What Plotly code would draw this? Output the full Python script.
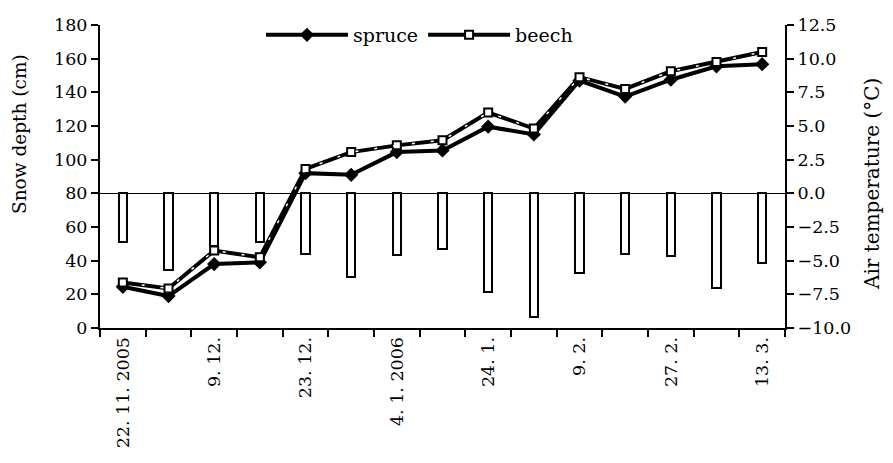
import plotly.graph_objects as go

# Data
cat_index = list(range(15))
tick_positions = [0, 2, 4, 6, 8, 10, 12, 14]
tick_labels = ["22. 11. 2005", "9. 12.", "23. 12.", "4. 1. 2006", "24. 1.", "9. 2.", "27. 2.", "13. 3."]
spruce = [24.5, 19, 38, 39, 92, 91, 104.5, 105.5, 119.6, 115, 147, 137.5, 147.5, 155.5, 156.7]
beech = [27, 23.5, 46, 42, 94.5, 104.5, 108.5, 111.5, 128, 118.5, 149, 142, 152.5, 158, 164]
air_temp = [-3.6, -5.7, -3.9, -3.6, -4.5, -6.2, -4.6, -4.1, -7.3, -9.2, -5.9, -4.5, -4.65, -7.0, -5.15]
left_title = "Snow depth (cm)"
right_title = "Air temperature (°C)"

FONT = "DejaVu Serif"
fig = go.Figure()

fig.add_trace(go.Bar(
    x=cat_index, y=air_temp, width=0.18,
    marker=dict(color="white", line=dict(color="black", width=2)),
    yaxis="y", showlegend=False, hoverinfo="y",
))

fig.add_trace(go.Scatter(
    x=cat_index, y=spruce, name="spruce", mode="lines+markers",
    line=dict(color="black", width=4),
    marker=dict(symbol="diamond", size=11, color="black"),
    yaxis="y2",
))
fig.add_trace(go.Scatter(
    x=cat_index, y=beech, name="beech", mode="lines+markers",
    line=dict(color="black", width=4),
    marker=dict(symbol="square", size=8, color="white", line=dict(color="black", width=2)),
    yaxis="y2",
))
fig.add_trace(go.Scatter(
    x=cat_index, y=beech, mode="lines",
    line=dict(color="white", width=1.5, dash="3px,16px"),
    yaxis="y2", showlegend=False, hoverinfo="skip",
))

# plot area in page pixels: x 100..785, y 25..328
def px_x(p):
    return (p - 100) / 685.0

def px_y(p):
    return (328 - p) / 303.0

fig.add_annotation(text=left_title, textangle=-90, xref="paper", yref="paper",
                   x=px_x(19), y=px_y(134), showarrow=False,
                   xanchor="center", yanchor="middle", font=dict(size=18.5))
fig.add_annotation(text=right_title, textangle=-90, xref="paper", yref="paper",
                   x=px_x(872), y=px_y(184), showarrow=False,
                   xanchor="center", yanchor="middle", font=dict(size=20))

fig.update_layout(
    width=877, height=447,
    margin=dict(l=92, r=100, t=17, b=127, autoexpand=False),
    paper_bgcolor="white", plot_bgcolor="white",
    font=dict(family=FONT, size=17.5, color="black"),
    bargap=0,
    showlegend=True,
    legend=dict(orientation="h", x=0.235, y=0.967, xanchor="left", yanchor="middle",
                bgcolor="rgba(0,0,0,0)", itemwidth=82, font=dict(size=19),
                tracegroupgap=0),
    xaxis=dict(
        range=[-0.5, 14.5], tickmode="array", tickvals=tick_positions, ticktext=tick_labels,
        tickangle=-90, ticks="", showgrid=False, zeroline=False,
        showline=True, linecolor="black", linewidth=2,
        minor=dict(ticks="outside", ticklen=7, tickwidth=2, tickcolor="black",
                   tick0=-0.5, dtick=1, showgrid=False),
        tickfont=dict(size=17.5),
    ),
    yaxis=dict(
        side="right", range=[-10, 12.5], tickmode="linear", tick0=-10, dtick=2.5,
        tickformat=".1f", ticks="outside", ticklen=7, tickwidth=2, tickcolor="black",
        showline=True, linecolor="black", linewidth=2, showgrid=False,
        zeroline=True, zerolinecolor="black", zerolinewidth=1,
    ),
    yaxis2=dict(
        side="left", overlaying="y", range=[0, 180], tickmode="linear", tick0=0, dtick=20,
        ticks="outside", ticklen=7, tickwidth=2, tickcolor="black",
        showline=True, linecolor="black", linewidth=2, showgrid=False, zeroline=False,
    ),
)

fig.write_html("out.html")
